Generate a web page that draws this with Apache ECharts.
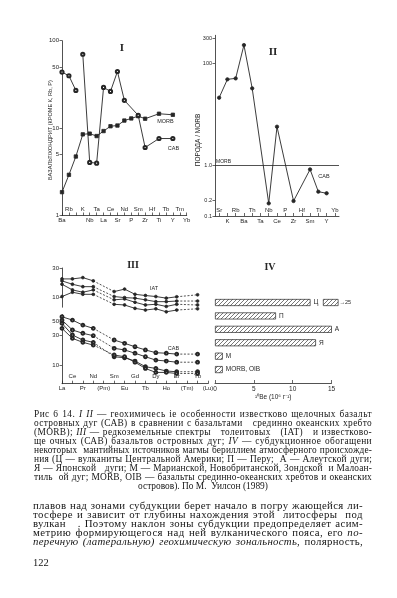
<!DOCTYPE html>
<html><head><meta charset="utf-8">
<script src="https://cdn.jsdelivr.net/npm/echarts@6/dist/echarts.min.js"></script>
<style>
html,body{margin:0;padding:0;background:#fff;}
#chart{position:absolute;left:0;top:0;width:397px;height:598px;}
.blk{position:absolute;font-family:"Liberation Serif","DejaVu Serif",serif;color:#151515;}
.blk div{white-space:nowrap;text-align:justify;text-align-last:justify;height:9px;line-height:9px;overflow:visible;}
.cap{left:34px;top:410px;width:338px;font-size:9.4px;}
.body{left:33px;top:500.5px;width:330px;font-size:10.8px;}
.cap div.c{text-align:center;text-align-last:center;}
.pg{position:absolute;left:33px;top:557px;font-family:"Liberation Serif",serif;font-size:10.5px;color:#151515;}
</style></head>
<body>
<div id="chart"></div>
<div class="blk cap">
<div>Рис 6 14. <i>I  II</i> — геохимичесь іе особенности известково щелочных базальт</div>
<div>островных дуг (САВ) в сравнении с базальтами &nbsp; срединно океанских хребто</div>
<div>(MORB); <i>III</i> — редкоземельные спектры &nbsp; толеитовых &nbsp; (IAT) &nbsp; и известково-</div>
<div>ще очных (САВ) базальтов островных дуг; <i>IV</i> — субдукционное обогащени</div>
<div>некоторых &nbsp;мантийных источников магмы бериллием атмосферного происхожде-</div>
<div>ния (Ц — вулканиты Центральной Америки; П — Перу; &nbsp;А — Алеутской дуги;</div>
<div>Я — Японской &nbsp; дуги; М — Марианской, Новобританской, Зондской &nbsp;и Малоан-</div>
<div>тиль &nbsp;ой дуг; MORB, OIB — базальты срединно-океанских хребтов и океанских</div>
<div class="c">островов). По М. &nbsp;Уилсон (1989)</div>
</div>
<div class="blk body">
<div>плавов над зонами субдукции берет начало в погру жающейся ли-</div>
<div>тосфере и зависит от глубины нахождения этой &nbsp;литосферы &nbsp;под</div>
<div>вулкан &nbsp; . Поэтому наклон зоны субдукции предопределяет асим-</div>
<div>метрию формирующегося над ней вулканического пояса, его <i>по-</i></div>
<div><i>перечную (латеральную) геохимическую зональность</i>, полярность,</div>
</div>
<div class="pg">122</div>
<script>
// ---------- Panel I : basalt / chondrite ----------
const catI = ['Ba','Rb','','K','Nb','Ta','La','Ce','Sr','Nd','P','Sm','Zr','Hf','Ti','Tb','Y','Tm','Yb'];
const morbI = [1.85,2.92,4.73,8.48,8.64,8.11,9.25,10.5,10.7,12.2,12.9,13.7,12.8,null,14.6,null,14.2,null,null];
const cabIa = [43.7,39.7,27,null,null,null,null,null,null,null,null,null,null,null,null,null,null,null,null];
const cabIb = [null,null,null,70,4.05,3.97,29.2,26.3,44.4,20.8,null,14,6,null,7.6,null,7.6,null,null];
const yTicksI = [1,5,10,50,100];
const yLabelsI = ['1','5','10','50','100'];

// ---------- Panel II : rock / MORB ----------
const catII = ['Sr','K','Rb','Ba','Th','Ta','Nb','Ce','P','Zr','Hf','Sm','Ti','Y','Yb'];
const cabII = [20.9,47.9,50,225,31.9,null,0.177,5.64,null,0.197,null,0.82,0.30,0.279,null];
const morbRefII = 1;
const yTicksII = [0.1,0.2,1,100,300];
const yLabelsII = ['0.1','0.2','1.0','100','300'];

// ---------- Panel III : REE ----------
const catIII = ['La','Ce','Pr','Nd','(Pm)','Sm','Eu','Gd','Tb','Dy','Ho','Er','(Tm)','Yb','(Lu)'];
const iat1 = [20.0,20.0,21.0,18.6,null,12.5,13.7,11.3,10.8,10.4,9.8,10.3,null,11.1,null];
const iat2 = [18.6,16.4,15.0,15.0,null,10.4,10.0,9.8,9.2,8.6,8.6,8.8,null,8.8,null];
const iat3 = [16.4,13.3,12.2,13.3,null,9.2,9.5,8.4,7.6,7.8,7.2,7.8,null,7.6,null];
const iat4 = [10.4,12.2,11.3,11.3,null,7.8,7.6,6.7,6.3,6.6,5.9,6.3,null,6.6,null];
const cab1 = [60,53,44,39,null,25.3,22.4,19.7,17.5,15.8,15.5,15.0,null,15.0,null];
const cab2 = [53,36.7,32.5,29.7,null,18.6,17.5,15.5,13.6,12.0,11.6,11.1,null,11.1,null];
const cab3 = [47,30.5,25.3,23.2,null,13.6,13.1,11.6,9.4,8.8,8.0,7.8,null,7.8,null];
const cab4 = [39,26.9,23.2,21.0,null,14.5,13.6,11.1,8.8,7.6,7.6,7.3,null,7.3,null];
const yTicksIAT = [10,30];
const yTicksCAB = [10,30,50];

// ---------- Panel IV : 10Be ----------
const catIV = ['Ц','П','А','Я','М','MORB, OIB',''];
const beHigh = [12.3,7.85,15.2,13.0,1.0,1.0,null];
const beGap = [1.6,null,null,null,null,null,null];
const bePiece = [2.0,null,null,null,null,null,null];
const xTicksIV = [0,5,10,15];

// ---------- fit text lines (letter-spacing, then justify) ----------
document.querySelectorAll('.blk div').forEach(d => {
  if (d.classList.contains('c')) return;
  const W = d.clientWidth;
  d.innerHTML = '<span>' + d.innerHTML + '</span>';
  const sp = d.firstChild;
  d.style.textAlign = 'left'; d.style.textAlignLast = 'left';
  const w = sp.getBoundingClientRect().width;
  const n = sp.textContent.length;
  if (w > W) {
    const fs = parseFloat(getComputedStyle(d).fontSize);
    d.style.fontSize = (fs * W / w * 0.99) + 'px';
  } else {
    const ls = Math.max(0, Math.min(0.9, (W - w) * 0.75 / n));
    d.style.letterSpacing = ls + 'px';
  }
  d.style.textAlign = ''; d.style.textAlignLast = '';
});

const INK = '#262626';
const FONT = '"Liberation Sans", Arial, sans-serif';
const axLine = {show:true, lineStyle:{color:INK, width:0.8}};
const lbl = (extra) => Object.assign({color:INK, fontFamily:FONT, fontSize:6}, extra);
const lookup = (ticks, labels) => (v) => {
  const k = ticks.findIndex(t => Math.abs(t - v) / t < 1e-4);
  return k >= 0 ? labels[k] : '';
};

function catAxis(grid, data, bGap, showOdd, inside, margin, extra) {
  return Object.assign({
    type:'category', gridIndex:grid, position:'bottom', data:data, boundaryGap:bGap,
    axisLine: inside ? axLine : {show:false},
    axisTick: inside ? {show:true, inside:true, length:3, interval:0, alignWithLabel:true, lineStyle:{color:INK,width:0.7}} : {show:false},
    axisLabel: lbl({interval:0, inside:inside, margin:margin,
      formatter:(v,i) => ((i % 2 === 1) === showOdd ? v : '')}),
    splitLine:{show:false}
  }, extra || {});
}
function logAxis(grid, min, max, ticks, labels, extra) {
  return Object.assign({
    type:'log', logBase:10, gridIndex:grid, position:'left', min:min, max:max,
    axisLine:axLine,
    axisTick:{show:true, length:2.5, customValues:ticks, lineStyle:{color:INK,width:0.7}},
    axisLabel: lbl({margin:3, customValues:ticks, formatter:lookup(ticks, labels)}),
    splitLine:{show:false}, minorTick:{show:false}
  }, extra || {});
}

const lineBase = {type:'line', animation:false, lineStyle:{color:INK, width:0.9}, itemStyle:{color:INK, borderColor:INK, borderWidth:0.8}, symbolSize:3.2, z:3};

function reeSeries(vals, xi, yi, sym, clip) {
  const out = [Object.assign({}, lineBase, {xAxisIndex:xi, yAxisIndex:yi, data:vals, connectNulls:false, symbol:sym, symbolSize:2.8, clip:clip})];
  let i = 0;
  while (i < vals.length) {
    if (vals[i] != null && i + 1 < vals.length && vals[i+1] == null) {
      let j = i + 1; while (j < vals.length && vals[j] == null) j++;
      if (j < vals.length) {
        const d = vals.map((v,k) => (k === i || k === j) ? v : null);
        out.push(Object.assign({}, lineBase, {xAxisIndex:xi, yAxisIndex:yi, data:d, connectNulls:true, showSymbol:false, symbol:'none', clip:clip,
          lineStyle:{color:INK, width:0.8, type:[2,1.6]}}));
      }
      i = j;
    } else i++;
  }
  return out;
}

function makeHatch() {
  const c = document.createElement('canvas'); c.width = 4; c.height = 4;
  const g = c.getContext('2d');
  g.fillStyle = '#fff'; g.fillRect(0,0,4,4);
  g.strokeStyle = '#555'; g.lineWidth = 0.8;
  g.beginPath();
  g.moveTo(0,4); g.lineTo(4,0);
  g.moveTo(-1,1); g.lineTo(1,-1);
  g.moveTo(3,5); g.lineTo(5,3);
  g.stroke();
  return c;
}
const hatchFill = {image: makeHatch(), repeat:'repeat'};
const barBase = {type:'bar', xAxisIndex:7, yAxisIndex:4, stack:'be', barWidth:7, animation:false,
  itemStyle:{color:hatchFill, borderColor:INK, borderWidth:0.7}};

const option = {
  animation:false,
  backgroundColor:'#fff',
  grid:[
    {left:62, top:40.7, width:124.7, height:174.8, outerBoundsMode:'none'},
    {left:215, top:35.3, width:124, height:180.7, outerBoundsMode:'none'},
    {left:62, top:268, width:146, height:39.2, outerBoundsMode:'none'},
    {left:62, top:314.6, width:146, height:69.1, outerBoundsMode:'none'},
    {left:215, top:302.5, width:116.5, height:80.5, outerBoundsMode:'none'}
  ],
  xAxis:[
    catAxis(0, catI, false, true, true, 3),
    catAxis(0, catI, false, false, false, 2),
    catAxis(1, catII, true, false, true, 3),
    catAxis(1, catII, true, true, false, 2),
    {type:'category', gridIndex:2, position:'bottom', data:catIII, boundaryGap:false, show:false},
    catAxis(3, catIII, false, true, true, 4),
    catAxis(3, catIII, false, false, false, 2),
    {type:'value', gridIndex:4, position:'bottom', min:0, max:15, interval:5,
      axisLine:axLine, axisTick:{show:true, inside:true, length:3, lineStyle:{color:INK,width:0.7}},
      axisLabel:lbl({margin:2.5, fontSize:6.5, customValues:xTicksIV}), splitLine:{show:false},
      name:'¹⁰Be (10⁶ г⁻¹)', nameLocation:'middle', nameGap:11, nameTextStyle:lbl({fontSize:6.5})}
  ],
  yAxis:[
    logAxis(0, 1, 100, yTicksI, yLabelsI),
    logAxis(1, 0.1, 350, yTicksII, yLabelsII, {axisLabel: lbl({margin:3, fontSize:5.5, customValues:yTicksII, formatter:lookup(yTicksII, yLabelsII)})}),
    logAxis(2, 7, 30, yTicksIAT, ['10','30']),
    logAxis(3, 5, 65, yTicksCAB, ['10','30','50']),
    {type:'category', gridIndex:4, data:catIV, inverse:true, boundaryGap:false, show:false}
  ],
  series:[
    Object.assign({}, lineBase, {name:'MORB', xAxisIndex:0, yAxisIndex:0, data:morbI, connectNulls:true, symbol:'rect', symbolSize:3.4}),
    Object.assign({}, lineBase, {name:'CAB', xAxisIndex:0, yAxisIndex:0, data:cabIa, connectNulls:false, symbol:'emptyCircle'}),
    Object.assign({}, lineBase, {name:'CAB', xAxisIndex:0, yAxisIndex:0, data:cabIb, connectNulls:true, symbol:'emptyCircle'}),
    Object.assign({}, lineBase, {name:'CAB II', xAxisIndex:2, yAxisIndex:1, data:cabII, connectNulls:true, symbol:'circle', symbolSize:3.4,
      markLine:{symbol:'none', silent:true, animation:false,
        lineStyle:{color:INK, type:'solid', width:0.8},
        label:{show:true, formatter:'MORB', position:'insideStartTop', distance:1, color:INK, fontFamily:FONT, fontSize:5},
        data:[{yAxis:morbRefII}]}}),
    ...reeSeries(iat1, 4, 2, 'circle', false),
    ...reeSeries(iat2, 4, 2, 'circle', false),
    ...reeSeries(iat3, 4, 2, 'circle', false),
    ...reeSeries(iat4, 4, 2, 'circle', false),
    ...reeSeries(cab1, 5, 3, 'emptyCircle', true),
    ...reeSeries(cab2, 5, 3, 'emptyCircle', true),
    ...reeSeries(cab3, 5, 3, 'emptyCircle', true),
    ...reeSeries(cab4, 5, 3, 'emptyCircle', true),
    Object.assign({}, barBase, {data:beHigh,
      label:{show:true, position:'right', distance:3, formatter:'{b}', color:INK, fontFamily:FONT, fontSize:6.5}}),
    Object.assign({}, barBase, {data:beGap, itemStyle:{color:'rgba(0,0,0,0)', borderWidth:0}}),
    Object.assign({}, barBase, {data:bePiece, clip:false,
      label:{show:true, position:'right', distance:1, formatter:'→25', color:INK, fontFamily:FONT, fontSize:5.5}})
  ],
  graphic:[
    {type:'text', x:122, y:48, style:{text:'I', font:'bold 11px "Liberation Serif", serif', fill:INK, align:'center', verticalAlign:'middle'}},
    {type:'text', x:273, y:52, style:{text:'II', font:'bold 11px "Liberation Serif", serif', fill:INK, align:'center', verticalAlign:'middle'}},
    {type:'text', x:133, y:265, style:{text:'III', font:'bold 10px "Liberation Serif", serif', fill:INK, align:'center', verticalAlign:'middle'}},
    {type:'text', x:270, y:267, style:{text:'IV', font:'bold 10px "Liberation Serif", serif', fill:INK, align:'center', verticalAlign:'middle'}},
    {type:'text', x:50, y:130, rotation:Math.PI/2, style:{text:'БАЗАЛЬТ/ХОНДРИТ (КРОМЕ К, Rb, P)', font:'5.6px "Liberation Sans", sans-serif', fill:INK, align:'center', verticalAlign:'middle'}},
    {type:'text', x:198, y:140, rotation:Math.PI/2, style:{text:'ПОРОДА / MORB', font:'6.5px "Liberation Sans", sans-serif', fill:INK, align:'center', verticalAlign:'middle'}},
    {type:'text', x:165.5, y:121.7, style:{text:'MORB', font:'5.5px "Liberation Sans", sans-serif', fill:INK, align:'center', verticalAlign:'middle'}},
    {type:'text', x:173.5, y:148.3, style:{text:'CAB', font:'5.5px "Liberation Sans", sans-serif', fill:INK, align:'center', verticalAlign:'middle'}},
    {type:'text', x:324, y:176.7, style:{text:'CAB', font:'5.5px "Liberation Sans", sans-serif', fill:INK, align:'center', verticalAlign:'middle'}},
    {type:'text', x:154, y:288.3, style:{text:'IAT', font:'5.5px "Liberation Sans", sans-serif', fill:INK, align:'center', verticalAlign:'middle'}},
    {type:'text', x:173.5, y:348.3, style:{text:'CAB', font:'5.5px "Liberation Sans", sans-serif', fill:INK, align:'center', verticalAlign:'middle'}}
  ]
};
const chart = echarts.init(document.getElementById('chart'));
chart.setOption(option);
</script>
</body></html>
